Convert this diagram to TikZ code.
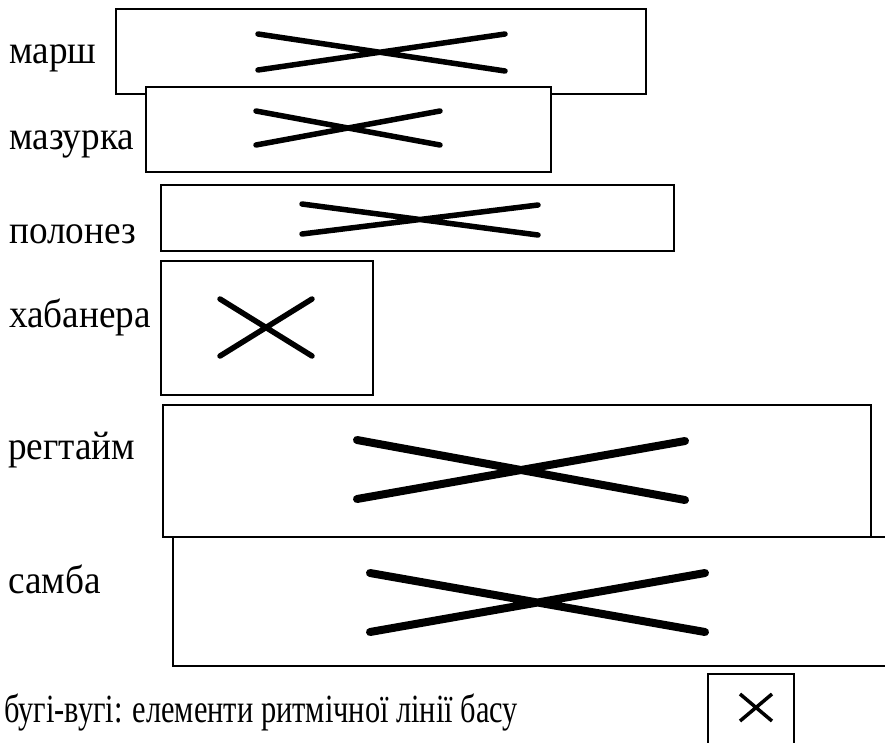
\documentclass[tikz,border=0pt]{standalone}
\usepackage{graphicx}
\usepackage{fontspec}
\setmainfont{Liberation Serif}
\newcommand{\lab}[1]{\scalebox{0.93}[1]{\fontsize{40}{44}\selectfont #1}}
\newcommand{\labb}[1]{\scalebox{0.76}[1]{\fontsize{40}{44}\selectfont #1}}
\begin{document}
\begin{tikzpicture}[x=1pt,y=-1pt,
  box/.style={draw, line width=1.8pt, anchor=north west, inner sep=0pt},
  lbl/.style={anchor=base west, inner sep=0pt},
  xl/.style={line width=8pt, line cap=round},
  xs/.style={line width=5.5pt, line cap=round}]
\useasboundingbox (0,0) rectangle (885,742);
\clip (0,0) rectangle (885,742);
% boxes
\node[box, minimum width=530pt, minimum height=85pt] (bmarsh) at (115,8) {};
\node[box, fill=white, minimum width=405pt, minimum height=85pt] (bmaz) at (145,86) {};
\node[box, minimum width=513pt, minimum height=66pt] (bpol) at (160,184) {};
\node[box, minimum width=212pt, minimum height=134pt] (bhab) at (160,260) {};
\node[box, minimum width=708pt, minimum height=132pt] (breg) at (162,404) {};
\node[box, minimum width=740pt, minimum height=129pt] (bsam) at (172,536) {};
\node[box, minimum width=86pt, minimum height=90pt] (bbug) at (707,673) {};
% labels
\node[lbl] (lmarsh) at (9,63) {\lab{марш}};
\node[lbl] (lmaz) at (9,149) {\lab{мазурка}};
\node[lbl] (lpol) at (9,243) {\lab{полонез}};
\node[lbl] (lhab) at (9,327) {\lab{хабанера}};
\node[lbl] (lreg) at (8,459) {\lab{регтайм}};
\node[lbl] (lsam) at (8,593) {\lab{самба}};
\node[lbl] (lbug) at (4,722) {\labb{бугі-вугі: елементи ритмічної лінії басу}};
% crosses
\draw[xs] (258,34) -- (505,71) (258,70) -- (505,34);
\draw[xs] (256,111) -- (440,145) (256,145) -- (440,111);
\draw[xs] (302,204) -- (538,235) (302,234) -- (538,205);
\draw[xs] (220,299) -- (312,356) (220,356) -- (312,299);
\draw[xl] (357,440) -- (685,500) (357,499) -- (685,441);
\draw[xl] (370,573) -- (705,632) (370,632) -- (705,573);
\draw[line width=3.5pt] (740,694) -- (772,721) (740,721) -- (772,694);
\end{tikzpicture}
\end{document}
